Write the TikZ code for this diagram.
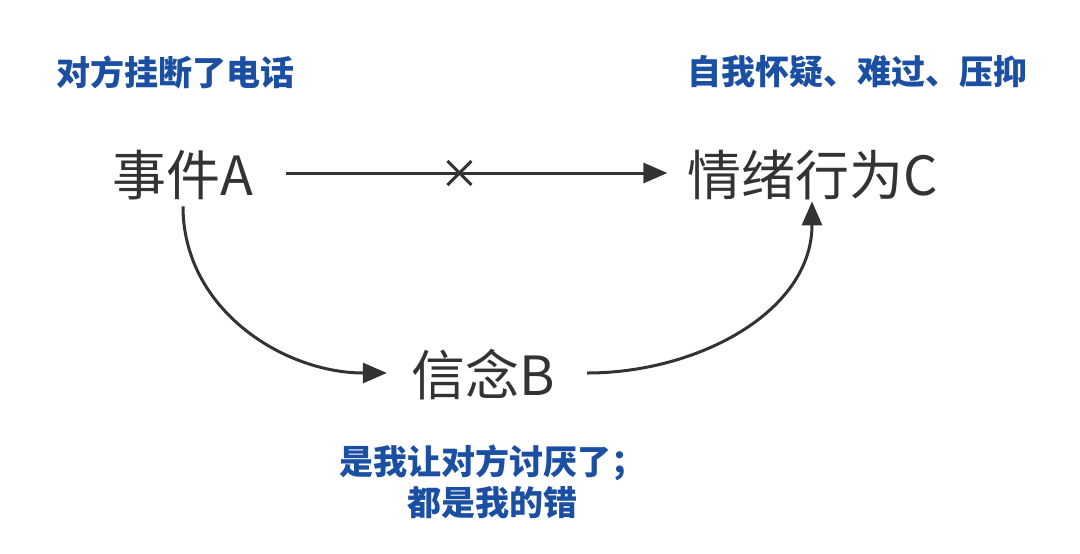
\documentclass[tikz,border=0pt]{standalone}
\usepackage{fontspec}
\setmainfont{Noto Sans CJK SC}
\usetikzlibrary{arrows.meta}
\definecolor{ink}{HTML}{333333}
\definecolor{note}{HTML}{1B4FA3}
\tikzset{
  term/.style={inner sep=0pt, text=ink, font=\fontsize{27}{30}\selectfont},
  remark/.style={inner sep=0pt, text=note, align=center, font=\fontsize{17}{20.5}\selectfont\bfseries},
  link/.style={draw=ink, line width=1.5pt, -{Triangle[length=12pt,width=10pt]}}
}
\begin{document}
\begin{tikzpicture}[x=0.5pt, y=-0.5pt]
      \useasboundingbox (0,0) rectangle (1080,553);
      \node[term] (event) at (183,175) {事件A};
      \node[term] (emotion) at (813,175) {情绪行为C};
      \node[term] (belief) at (483,375) {信念B};
      \node[remark] (eventnote) at (175,72) {对方挂断了电话};
      \node[remark] (emotionnote) at (857,72) {自我怀疑、难过、压抑};
      \node[remark] (beliefnote) at (492,482) {是我让对方讨厌了；\\都是我的错};
      \draw[link] ([xshift=16pt,yshift=1pt]event.east) -- ([xshift=-10pt,yshift=1pt]emotion.west)
        coordinate[pos=0.455] (cross);
      \draw[ink, line width=1.5pt] ([shift={(-6pt,-6pt)}]cross) -- ([shift={(6pt,6pt)}]cross)
        ([shift={(-6pt,6pt)}]cross) -- ([shift={(6pt,-6pt)}]cross);
      \draw[link] ([yshift=-3pt]event.south) to[out=-90, in=180] ([xshift=-12pt,yshift=1pt]belief.west);
      \draw[link] ([xshift=16pt,yshift=1pt]belief.east) to[out=0, in=-90] ([xshift=-0.5pt,yshift=-0.5pt]emotion.south);
    \end{tikzpicture}
\end{document}
